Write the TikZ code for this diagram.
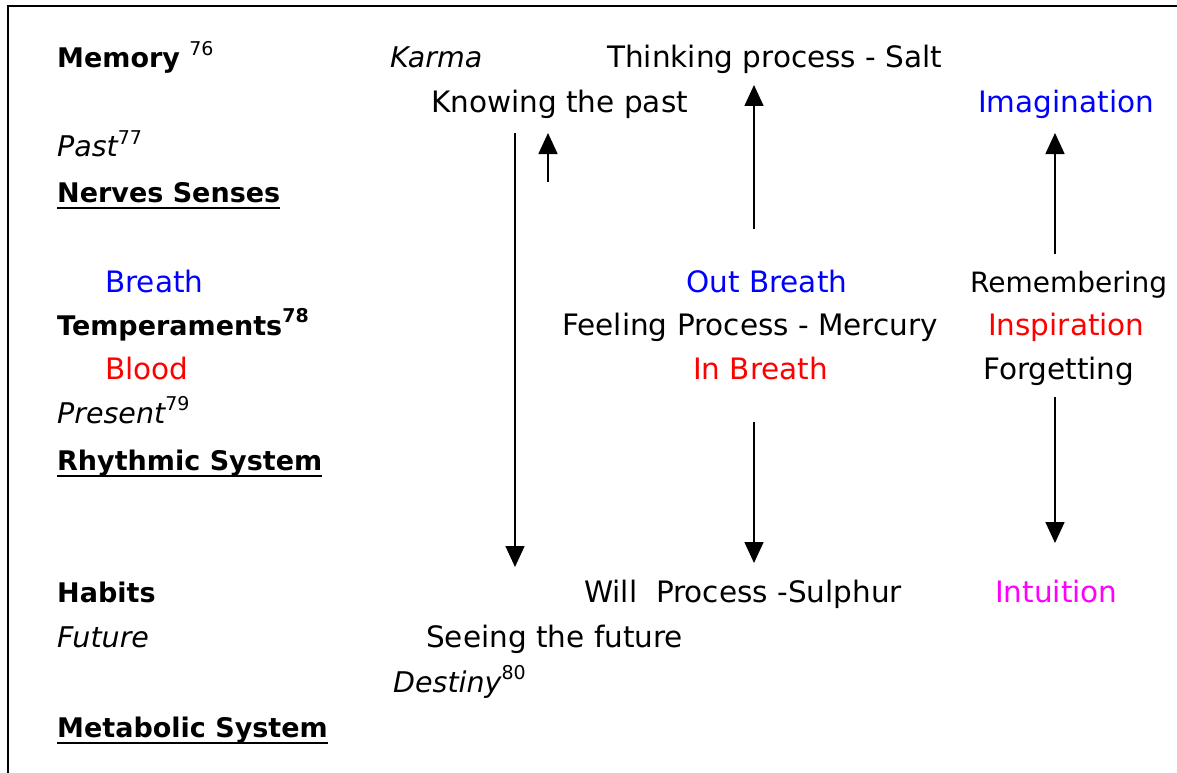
\documentclass[tikz,border=0pt]{standalone}
\usepackage{fontspec}
\setmainfont{DejaVu Sans}
\usetikzlibrary{arrows.meta}
\definecolor{cblue}{RGB}{0,0,255}
\definecolor{cred}{RGB}{255,0,0}
\definecolor{cmag}{RGB}{255,0,255}
\newcommand{\supr}[1]{\raisebox{0.45em}{\fontsize{19}{21}\selectfont\mdseries\upshape #1}}
\tikzset{
  lbl/.style={anchor=base west, inner sep=0pt, font=\fontsize{29.5}{34}\selectfont},
  bl/.style={lbl, font=\fontsize{27}{32}\selectfont\bfseries},
  it/.style={lbl, font=\fontsize{28.5}{33}\selectfont\itshape},
  arr/.style={line width=1.6pt, -{Triangle[width=19pt,length=21pt]}},
  uline/.style={line width=2.6pt},
  frame/.style={line width=1.8pt}
}
\begin{document}
\begin{tikzpicture}[x=1pt,y=-1pt]
\useasboundingbox (0,0) rectangle (1177,773);
\draw[frame] (8,773) -- (8,6) -- (1177,6);
% left column
\node[bl] (mem) at (57,68) {Memory \supr{76}};
\node[it] (past) at (57,157) {Past\supr{77}};
\node[bl] (ns) at (57,202) {Nerves Senses};
\node[lbl, text=cblue] (br) at (105,292) {Breath};
\node[bl] (tmp) at (57,335) {Temperaments\supr{\bfseries 78}};
\node[lbl, text=cred] (bl) at (105,379) {Blood};
\node[it] (pres) at (57,423) {Present\supr{79}};
\node[bl] (rs) at (57,470) {Rhythmic System};
\node[bl] (hab) at (57,602) {Habits};
\node[it] (fut) at (57,647) {Future};
\node[bl] (ms) at (57,737) {Metabolic System};
\draw[uline] ([yshift=-6pt]ns.base west) -- ([yshift=-6pt]ns.base east);
\draw[uline] ([yshift=-6pt]rs.base west) -- ([yshift=-6pt]rs.base east);
\draw[uline] ([yshift=-6pt]ms.base west) -- ([yshift=-6pt]ms.base east);
% middle
\node[it] (kar) at (390,68) {Karma};
\node[lbl] (think) at (607,68) {Thinking process - Salt};
\node[lbl] (know) at (431,113) {Knowing the past};
\node[lbl, text=cblue] (ob) at (686,292) {Out Breath};
\node[lbl] (feel) at (562,335) {Feeling Process - Mercury};
\node[lbl, text=cred] (ib) at (693,379) {In Breath};
\node[lbl] (will) at (584,602) {Will\ \ Process -Sulphur};
\node[lbl] (see) at (426,647) {Seeing the future};
\node[it] (dest) at (393,692) {Destiny\supr{80}};
% right
\node[lbl, text=cblue] (imag) at (978,113) {Imagination};
\node[lbl, font=\fontsize{28}{33}\selectfont] (rem) at (970,292) {Remembering};
\node[lbl, text=cred] (insp) at (988,335) {Inspiration};
\node[lbl] (forg) at (983,379) {Forgetting};
\node[lbl, text=cmag] (intu) at (995,602) {Intuition};
% arrow endpoints
\coordinate (a1s) at (515,133); \coordinate (a1e) at (515,567);
\coordinate (a2s) at (548,182); \coordinate (a2e) at (548,133);
\coordinate (a3s) at (754,229); \coordinate (a3e) at (754,85);
\coordinate (a4s) at (754,422); \coordinate (a4e) at (754,563);
\coordinate (a5s) at (1055,254); \coordinate (a5e) at (1055,133);
\coordinate (a6s) at (1055,397); \coordinate (a6e) at (1055,543);
\draw[arr] (a1s) -- (a1e);
\draw[arr] (a2s) -- (a2e);
\draw[arr] (a3s) -- (a3e);
\draw[arr] (a4s) -- (a4e);
\draw[arr] (a5s) -- (a5e);
\draw[arr] (a6s) -- (a6e);
\end{tikzpicture}
\end{document}
